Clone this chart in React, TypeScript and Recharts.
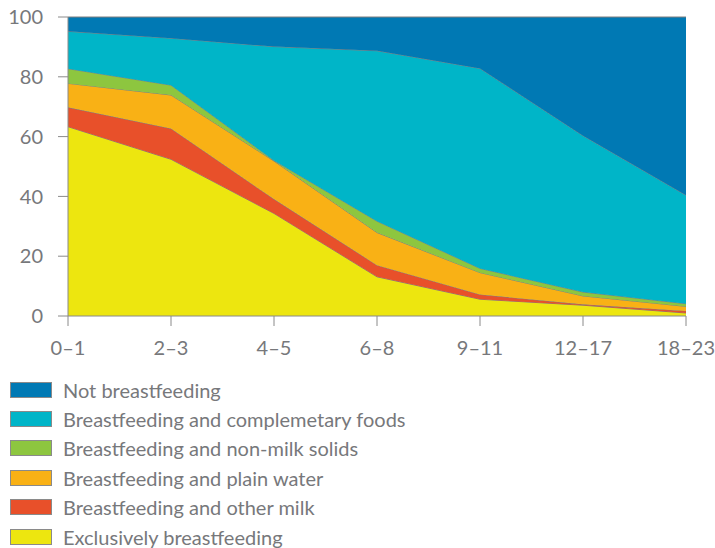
import { AreaChart, Area, XAxis, YAxis, Legend } from 'recharts';

const ages = ['0–1', '2–3', '4–5', '6–8', '9–11', '12–17', '18–23'];
const exclusive = [63.3, 52.4, 34.3, 13.1, 5.6, 3.6, 1.0];
const otherMilk = [6.5, 10.3, 4.8, 3.9, 1.6, 0.3, 0.7];
const plainWater = [8.0, 11.2, 12.7, 10.9, 7.3, 2.8, 1.5];
const nonMilk = [4.9, 3.3, 0.2, 3.8, 1.4, 1.3, 0.9];
const complementary = [12.5, 15.7, 38.1, 57.0, 66.9, 52.3, 36.3];
const notBreastfeeding = [4.8, 7.1, 9.9, 11.3, 17.2, 39.7, 59.6];
const yTicks = [0, 20, 40, 60, 80, 100];

// bottom of the stack first
const series = [
    { key: 'exclusive', name: 'Exclusively breastfeeding', values: exclusive, color: '#ede60f' },
    { key: 'otherMilk', name: 'Breastfeeding and other milk', values: otherMilk, color: '#e8502a' },
    { key: 'plainWater', name: 'Breastfeeding and plain water', values: plainWater, color: '#f9b115' },
    { key: 'nonMilk', name: 'Breastfeeding and non-milk solids', values: nonMilk, color: '#8dc63f' },
    { key: 'complementary', name: 'Breastfeeding and complemetary foods', values: complementary, color: '#00b5c8' },
    { key: 'notBreastfeeding', name: 'Not breastfeeding', values: notBreastfeeding, color: '#0079b4' },
];

const data = ages.map((age, i) => {
    const row: Record<string, string | number> = { age };
    series.forEach(s => { row[s.key] = s.values[i]; });
    return row;
});

const textColor = '#77787b';
const lineColor = '#8a8a8a';
const font = 'Lato, "Open Sans", sans-serif';

const LegendList = () => (
    <div style={{ fontFamily: font, fontSize: 20, color: textColor, lineHeight: '22px' }}>
        {[...series].reverse().map(s => (
            <div key={s.key} style={{ display: 'flex', alignItems: 'center', height: 29.4 }}>
                <span style={{ display: 'inline-block', width: 40, height: 14, background: s.color, border: '1px solid #8a8a8a', marginRight: 11 }} />
                <span>{s.name}</span>
            </div>
        ))}
    </div>
);

const App = () => {
    return (
        <div style={{ position: 'absolute', left: 0, top: 0 }}>
            <AreaChart width={715} height={548} data={data} margin={{ top: 17, right: 29, bottom: 172, left: 8 }}>
                <XAxis
                    dataKey="age"
                    height={60}
                    axisLine={{ stroke: lineColor }}
                    tickLine={{ stroke: lineColor }}
                    tickSize={10}
                    tickMargin={15}
                    tick={{ fill: textColor, fontSize: 20, fontFamily: font }}
                    interval={0}
                />
                <YAxis
                    yAxisId="left"
                    domain={[0, 100]}
                    ticks={yTicks}
                    width={60}
                    axisLine={{ stroke: lineColor }}
                    tickLine={{ stroke: lineColor }}
                    tickSize={10}
                    tickMargin={15}
                    tick={{ fill: textColor, fontSize: 20, fontFamily: font }}
                />
                <YAxis yAxisId="right" orientation="right" domain={[0, 100]} width={0} tick={false} tickLine={false} axisLine={{ stroke: lineColor }} />
                {series.map(s => (
                    <Area
                        key={s.key}
                        yAxisId="left"
                        type="linear"
                        dataKey={s.key}
                        name={s.name}
                        stackId="1"
                        fill={s.color}
                        fillOpacity={1}
                        stroke="#7f7f7f"
                        strokeWidth={1}
                        isAnimationActive={false}
                    />
                ))}
                <Legend
                    layout="vertical"
                    align="center"
                    verticalAlign="middle"
                    wrapperStyle={{ left: 10, top: 375, width: 500 }}
                    content={() => <LegendList />}
                />
            </AreaChart>
        </div>
    );
};

export default App;
